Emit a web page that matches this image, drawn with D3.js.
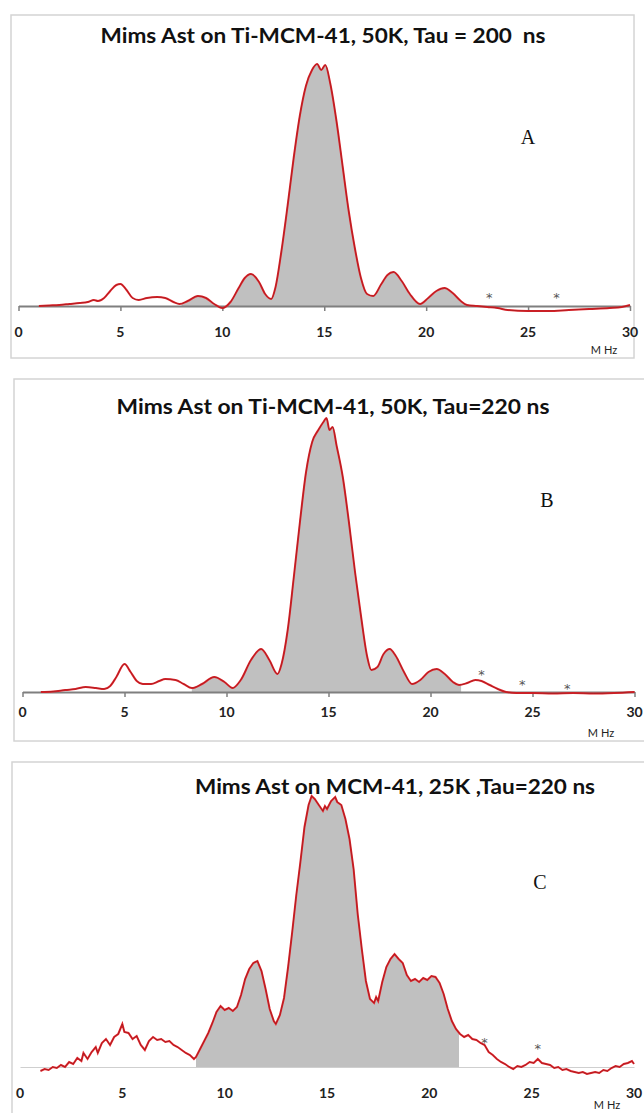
<!DOCTYPE html>
<html>
<head>
<meta charset="utf-8">
<script src="https://cdn.jsdelivr.net/npm/d3@7"></script>
<style>
body { margin: 0; background: #fff; }
svg { display: block; }
text { white-space: pre; }
</style>
</head>
<body>
<svg id="svg" width="644" height="1113"></svg>
<script>
//spectrum A : frequency (MHz) and intensity (arb. units)
const freqA = [1.0, 1.5, 2.0, 2.5, 3.0, 3.4, 3.7, 3.9, 4.2, 4.5, 4.8, 5.0, 5.3, 5.6, 5.9, 6.3, 6.8, 7.2, 7.6, 7.9,
    8.3, 8.8, 9.2, 9.6, 10.0, 10.4, 10.8, 11.1, 11.4, 11.8, 12.1, 12.4, 12.6, 12.9, 13.2, 13.5, 13.8, 14.1, 14.4, 14.65,
    14.85, 15.05, 15.3, 15.6, 15.9, 16.2, 16.5, 16.8, 17.1, 17.4, 17.8, 18.1, 18.4, 18.8, 19.2, 19.7, 20.1, 20.5, 20.9, 21.3,
    21.7, 22.0, 22.5, 23.0, 23.5, 24.0, 25.0, 26.0, 27.0, 28.0, 29.0, 29.6, 30.0];
const sigA = [0, 0.5, 1, 2, 3, 4, 6, 5, 8, 15, 21, 22, 16, 8, 6, 8, 9, 8, 4, 2,
    5, 10, 8, 2, -2, 4, 18, 28, 32, 24, 12, 7, 18, 55, 100, 148, 190, 220, 236, 242,
    236, 241, 222, 185, 140, 95, 58, 28, 12, 10, 22, 31, 34, 25, 12, 2, 8, 15, 18, 13,
    5, 1, 0, -1, -2, -4, -5, -5, -4, -3, -2, -1, 1];

//spectrum B
const freqB = [0.9, 1.5, 2.1, 2.6, 3.1, 3.6, 4.0, 4.3, 4.6, 5.0, 5.3, 5.6, 5.9, 6.3, 6.7, 7.0, 7.5, 7.9, 8.3, 8.8,
    9.4, 9.9, 10.3, 10.7, 11.2, 11.7, 12.1, 12.5, 12.7, 13.0, 13.3, 13.6, 13.9, 14.2, 14.5, 14.75, 14.9, 15.05, 15.2, 15.4,
    15.7, 16.0, 16.3, 16.6, 16.9, 17.1, 17.4, 17.7, 18.0, 18.3, 18.7, 19.1, 19.5, 19.9, 20.3, 20.7, 21.1, 21.4, 21.8, 22.2,
    22.5, 22.9, 23.3, 23.7, 24.2, 25.0, 26.0, 27.0, 28.0, 29.0, 30.0];
const sigB = [0, 0.5, 2, 3, 5, 4, 3, 6, 15, 28, 20, 11, 8, 8, 11, 13, 12, 8, 4, 8,
    15, 10, 4, 12, 32, 43, 32, 18, 28, 62, 115, 170, 220, 250, 262, 270, 274, 262, 265, 246,
    215, 170, 120, 75, 35, 22, 25, 38, 43, 36, 20, 8, 12, 20, 23, 18, 10, 7, 9, 12,
    11, 7, 3, 0, -1, -1, -1.5, -1, -1.5, -1, 0];

//spectrum C (noisy)
const freqC = [1.0, 1.2, 1.4, 1.6, 1.8, 2.0, 2.2, 2.4, 2.6, 2.8,
    3.0, 3.1, 3.3, 3.5, 3.7, 3.8, 4.0, 4.2, 4.4, 4.6,
    4.8, 5.0, 5.1, 5.3, 5.5, 5.7, 5.9, 6.1, 6.3, 6.5,
    6.7, 6.9, 7.1, 7.3, 7.5, 7.7, 7.9, 8.1, 8.3, 8.5,
    8.6, 8.8, 9.0, 9.2, 9.4, 9.6, 9.8, 10.0, 10.2, 10.4,
    10.6, 10.8, 11.0, 11.2, 11.4, 11.6, 11.8, 12.0, 12.2, 12.4,
    12.5, 12.7, 12.9, 13.1, 13.3, 13.5, 13.7, 13.9, 14.1, 14.25,
    14.4, 14.6, 14.8, 14.9, 15.0, 15.2, 15.4, 15.5, 15.7, 15.9,
    16.1, 16.3, 16.5, 16.7, 16.9, 17.1, 17.3, 17.4, 17.5, 17.7,
    17.9, 18.1, 18.3, 18.5, 18.7, 18.9, 19.1, 19.3, 19.5, 19.7,
    19.9, 20.1, 20.3, 20.5, 20.7, 20.9, 21.1, 21.3, 21.5, 21.7,
    21.9, 22.1, 22.3, 22.5, 22.7, 22.9, 23.1, 23.3, 23.5, 23.7,
    23.9, 24.1, 24.3, 24.5, 24.7, 24.9, 25.1, 25.3, 25.5, 25.7,
    25.9, 26.1, 26.3, 26.5, 26.7, 26.9, 27.1, 27.3, 27.5, 27.7,
    27.9, 28.1, 28.3, 28.5, 28.7, 28.9, 29.1, 29.3, 29.5, 29.7,
    29.9, 30.0];
const sigC = [-4, -2, -3, 0, -1, 2, 0, 5, 3, 9,
    6, 14, 8, 15, 20, 14, 24, 28, 22, 30,
    33, 43, 35, 34, 28, 31, 22, 17, 26, 30,
    27, 28, 25, 26, 22, 20, 17, 14, 12, 8,
    10, 18, 26, 34, 44, 55, 61, 57, 59, 56,
    60, 72, 88, 98, 104, 106, 96, 78, 58, 46,
    43, 52, 69, 100, 135, 172, 205, 240, 262, 271,
    268, 262, 256, 261, 258, 266, 270, 265, 262, 248,
    228, 198, 153, 118, 86, 68, 64, 70, 66, 85,
    100, 108, 113, 108, 104, 92, 86, 88, 85, 89,
    87, 91, 90, 84, 73, 58, 46, 38, 33, 30,
    32, 28, 27, 24, 22, 15, 12, 8, 5, 3,
    0, -2, 1, 0, 2, 5, 4, 8, 4, 3,
    2, -1, 0, -3, -2, -4, -5, -6, -5, -7,
    -6, -5, -6, -3, -4, -1, 1, 0, 3, 4,
    6, 3];

//shaded frequency window of each spectrum
const fillA = [8.0, 22.2];
const fillB = [8.3, 21.5];
const fillC = [8.6, 21.45];

//asterisk markers [MHz, intensity]
const starsA = [[23.1, 13], [26.4, 13]];
const starsB = [[22.5, 22], [24.5, 12], [26.7, 8]];
const starsC = [[22.7, 29], [25.3, 23]];

//axis ticks
const TICKS = [0, 5, 10, 15, 20, 25, 30];

//titles
const TITLES = ["Mims Ast on Ti-MCM-41, 50K, Tau = 200  ns",
    "Mims Ast on Ti-MCM-41, 50K, Tau=220 ns",
    "Mims Ast on MCM-41, 25K ,Tau=220 ns"];
const LETTERS = ["A", "B", "C"];

//panel layout
var panels = [
    {freq: freqA, sig: sigA, fill: fillA, stars: starsA, box: [11, 15, 623, 343], base: 306, xr: [18.5, 630],
        title: [323, 43, 445], letter: [528, 144], mhz: [604, 354], labelY: 337, axis: "#7f7f7f", tick: 5, noisy: false},
    {freq: freqB, sig: sigB, fill: fillB, stars: starsB, box: [14, 379, 640, 362], base: 692, xr: [22.5, 634.5],
        title: [333, 414, 433], letter: [547, 507], mhz: [601, 737], labelY: 717, axis: "#7f7f7f", tick: 5, noisy: false},
    {freq: freqC, sig: sigC, fill: fillC, stars: starsC, box: [12, 762, 640, 360], base: 1067, xr: [20, 634],
        title: [395, 794, 400], letter: [540, 889], mhz: [607, 1109], labelY: 1098, axis: "#cfcfcf", tick: 0, noisy: true}
];

init();

function init() {
    var svg = d3.select("#svg");
    panels.forEach(function (p, i) {
        drawPanel(svg, p, i);
    });
}

function drawPanel(svg, p, i) {
    var g = svg.append("g");

    //frame
    g.append("rect")
            .attr("x", p.box[0])
            .attr("y", p.box[1])
            .attr("width", p.box[2])
            .attr("height", p.box[3])
            .attr("fill", "#fff")
            .attr("stroke", "#d4d4d4")
            .attr("stroke-width", 1.5);

    var x = d3.scaleLinear().domain([0, 30]).range(p.xr);
    var y = d3.scaleLinear().domain([0, 280]).range([p.base, p.base - 280]);
    var data = d3.zip(p.freq, p.sig);
    var curve = p.noisy ? d3.curveLinear : d3.curveMonotoneX;

    //clip the grey fill to its frequency window
    g.append("clipPath")
            .attr("id", "clip" + i)
            .append("rect")
            .attr("x", x(p.fill[0]))
            .attr("y", p.base - 300)
            .attr("width", x(p.fill[1]) - x(p.fill[0]))
            .attr("height", 320);

    var area = d3.area()
            .x((d) => x(d[0]))
            .y0(y(0))
            .y1((d) => y(d[1]))
            .curve(curve);

    g.append("path")
            .datum(data)
            .attr("clip-path", "url(#clip" + i + ")")
            .attr("d", area)
            .attr("fill", "#c0c0c0");

    //x axis
    var xAxis = d3.axisBottom(x)
            .tickValues(TICKS)
            .tickSize(p.tick)
            .tickSizeOuter(0)
            .tickFormat("");
    var ax = g.append("g")
            .attr("transform", "translate(0," + p.base + ")")
            .call(xAxis);
    ax.select(".domain").attr("stroke", p.axis).attr("stroke-width", p.noisy ? 1.2 : 2);
    ax.selectAll(".tick line").attr("stroke", p.axis).attr("stroke-width", 1.5);

    //tick labels
    g.selectAll(".lab")
            .data(TICKS)
            .enter()
            .append("text")
            .attr("x", (d) => x(d))
            .attr("y", p.labelY)
            .attr("text-anchor", "middle")
            .style("font-family", "Lato, 'Open Sans', sans-serif")
            .style("font-weight", "bold")
            .style("font-size", "14px")
            .attr("fill", "#222")
            .text((d) => d);

    //spectrum line
    var line = d3.line()
            .x((d) => x(d[0]))
            .y((d) => y(d[1]))
            .curve(curve);
    g.append("path")
            .datum(data)
            .attr("d", line)
            .attr("fill", "none")
            .attr("stroke", "#e3242b")
            .attr("stroke-width", 2);
    g.append("path")
            .datum(data)
            .attr("d", line)
            .attr("fill", "none")
            .attr("stroke", "#6a1515")
            .attr("stroke-opacity", 0.6)
            .attr("stroke-width", 0.7);

    //asterisks
    g.selectAll(".star")
            .data(p.stars)
            .enter()
            .append("text")
            .attr("x", (d) => x(d[0]))
            .attr("y", (d) => y(d[1]) + 9)
            .attr("text-anchor", "middle")
            .style("font-family", "'DejaVu Sans', sans-serif")
            .style("font-size", "13px")
            .attr("fill", "#555")
            .text("*");

    //title
    g.append("text")
            .attr("x", p.title[0])
            .attr("y", p.title[1])
            .attr("text-anchor", "middle")
            .attr("textLength", p.title[2])
            .attr("lengthAdjust", "spacingAndGlyphs")
            .style("font-family", "Lato, 'Open Sans', sans-serif")
            .style("font-weight", "bold")
            .style("font-size", "21px")
            .attr("fill", "#111")
            .text(TITLES[i]);

    //panel letter
    g.append("text")
            .attr("x", p.letter[0])
            .attr("y", p.letter[1])
            .attr("text-anchor", "middle")
            .style("font-family", "'Liberation Serif', 'DejaVu Serif', serif")
            .style("font-size", "20px")
            .attr("fill", "#111")
            .text(LETTERS[i]);

    //unit label
    g.append("text")
            .attr("x", p.mhz[0])
            .attr("y", p.mhz[1])
            .attr("text-anchor", "middle")
            .style("font-family", "Lato, 'Open Sans', sans-serif")
            .style("font-size", "11px")
            .attr("fill", "#222")
            .text("M Hz");
}
</script>
</body>
</html>
